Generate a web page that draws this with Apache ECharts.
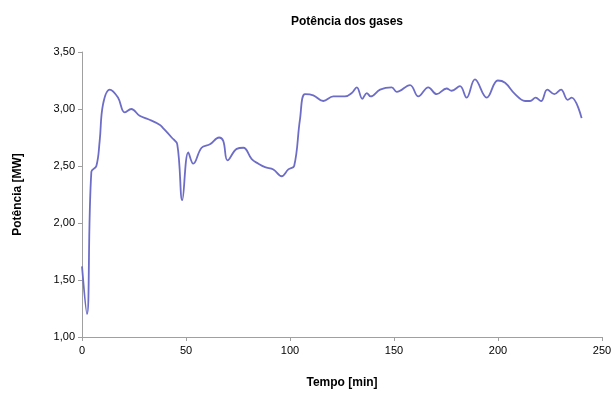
<!DOCTYPE html>
<html>
<head>
<meta charset="utf-8">
<script src="https://cdn.jsdelivr.net/npm/echarts@6/dist/echarts.min.js"></script>
<style>html,body{margin:0;padding:0;background:#fff}#c{width:615px;height:394px}</style>
</head>
<body>
<div id="c"></div>
<script>
var tempo = [0, 2.4, 4.5, 6.9, 8.5, 10.1, 13.3, 17.3, 20.5, 23.7, 27.7, 31.9, 37.5, 39.1, 43.1, 45.8, 48.2, 51.1, 53.5, 57.5, 61.5, 65.9, 67.9, 70, 74.4, 77.6, 81.6, 84.8, 88, 92, 96, 99.2, 102, 104.8, 107.2, 111.2, 116, 120.8, 126.4, 129.7, 132.1, 134.8, 136.9, 138.8, 143.3, 148.9, 151.3, 157.7, 161.7, 166.5, 170.5, 175.3, 177.7, 181.7, 184.9, 188.9, 194.6, 199.9, 203.4, 208.2, 213, 215.4, 218.1, 220.7, 223.7, 227.1, 230.3, 233.5, 235.4, 240.2];
var potencia = [1.62, 1.20, 2.45, 2.50, 2.72, 3.04, 3.17, 3.10, 2.97, 3.00, 2.94, 2.91, 2.86, 2.83, 2.75, 2.69, 2.20, 2.62, 2.52, 2.66, 2.69, 2.75, 2.72, 2.55, 2.65, 2.66, 2.56, 2.52, 2.49, 2.47, 2.41, 2.47, 2.50, 2.91, 3.13, 3.12, 3.07, 3.11, 3.11, 3.14, 3.19, 3.09, 3.14, 3.11, 3.17, 3.19, 3.15, 3.21, 3.11, 3.19, 3.13, 3.18, 3.16, 3.20, 3.10, 3.26, 3.10, 3.25, 3.23, 3.13, 3.07, 3.07, 3.10, 3.07, 3.17, 3.13, 3.17, 3.08, 3.10, 2.92];
var xTicks = [0, 50, 100, 150, 200, 250];
var yTicks = ['1,00', '1,50', '2,00', '2,50', '3,00', '3,50'];

var pts = tempo.map(function (t, i) { return [t, potencia[i]]; });
var font = 'Liberation Sans, Arial, sans-serif';
var chart = echarts.init(document.getElementById('c'));
chart.setOption({
  animation: false,
  title: {
    text: 'Potência dos gases', left: 342, top: 11, textAlign: 'center',
    textStyle: { fontFamily: font, fontSize: 12, fontWeight: 'bold', color: '#000' }
  },
  grid: { left: 82, right: 13, top: 52, bottom: 55 },
  xAxis: {
    type: 'value', min: 0, max: 250, interval: 50,
    name: 'Tempo [min]', nameLocation: 'middle', nameGap: 40,
    nameTextStyle: { fontFamily: font, fontSize: 12, fontWeight: 'bold', color: '#000' },
    axisLine: { show: true, lineStyle: { color: '#a0a0a0', width: 1 } },
    axisTick: { show: true, length: 4, lineStyle: { color: '#a0a0a0' } },
    axisLabel: { fontFamily: font, fontSize: 11, color: '#000', margin: 8,
      formatter: function (v) { return xTicks.indexOf(v) >= 0 ? String(v) : ''; } },
    splitLine: { show: false }
  },
  yAxis: {
    type: 'value', min: 1, max: 3.5, interval: 0.5,
    name: 'Potência [MW]', nameLocation: 'middle', nameGap: 58, nameRotate: 90,
    nameTextStyle: { fontFamily: font, fontSize: 12, fontWeight: 'bold', color: '#000' },
    axisLine: { show: true, lineStyle: { color: '#a0a0a0', width: 1 } },
    axisTick: { show: true, length: 4, lineStyle: { color: '#a0a0a0' } },
    axisLabel: { fontFamily: font, fontSize: 11, color: '#000', margin: 7,
      formatter: function (v) { return yTicks[Math.round((v - 1) / 0.5)]; } },
    splitLine: { show: false }
  },
  series: [{
    type: 'line', data: pts, smooth: 0.4, showSymbol: false,
    lineStyle: { color: '#6d6dc8', width: 1.8 }
  }]
});
</script>
</body>
</html>
